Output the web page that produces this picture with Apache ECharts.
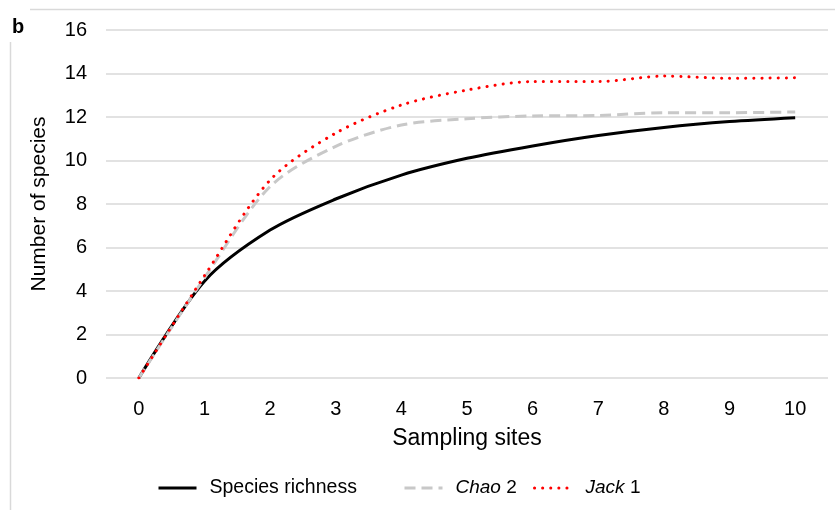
<!DOCTYPE html>
<html><head><meta charset="utf-8">
<script src="https://cdn.jsdelivr.net/npm/echarts@6/dist/echarts.min.js"></script>
<style>html,body{margin:0;padding:0;background:#fff}#c{width:835px;height:510px}</style>
</head><body><div id="c"></div>
<script>
const categories = ['0','1','2','3','4','5','6','7','8','9','10'];
const speciesRichness = [0, 4.45, 6.8, 8.23, 9.33, 10.1, 10.67, 11.15, 11.52, 11.79, 11.97];
const chao2 = [0, 4.6, 8.8, 10.65, 11.63, 11.92, 12.05, 12.07, 12.2, 12.2, 12.23];
const jack1 = [0, 4.7, 9.1, 11.26, 12.55, 13.24, 13.63, 13.63, 13.88, 13.78, 13.8];
const yTicks = {min: 0, max: 16, interval: 2};

const font = 'Liberation Sans';
const chart = echarts.init(document.getElementById('c'), null, {renderer: 'canvas'});
function legendCfg(name, left) {
  return {
    data: [name], left: left, top: 478, padding: 0, itemWidth: 38, itemHeight: 20, itemGap: 0,
    itemStyle: {opacity: 0},
    lineStyle: {width: 3},
    textStyle: {fontFamily: font, fontSize: 19.5, color: '#000', padding: [0, 0, 0, 8],
      rich: {i: {fontFamily: font, fontSize: 19, fontStyle: 'italic', color: '#000'}, n: {fontFamily: font, fontSize: 19, color: '#000'}}},
    formatter: function (n) {
      if (n === 'Chao 2') return '{i|Chao} {n|2}';
      if (n === 'Jack 1') return '{i|Jack} {n|1}';
      return n;
    }
  };
}
chart.setOption({
  animation: false,
  backgroundColor: '#fff',
  grid: {left: 106, right: 7, top: 30, bottom: 132, containLabel: false},
  legend: [legendCfg('Species richness', 157), legendCfg('Chao 2', 403), legendCfg('Jack 1', 533)],
  graphic: [
    {type: 'line', shape: {x1: 30, y1: 9.5, x2: 835, y2: 9.5}, style: {stroke: '#d9d9d9', lineWidth: 1.5}},
    {type: 'line', shape: {x1: 10.5, y1: 42, x2: 10.5, y2: 510}, style: {stroke: '#d9d9d9', lineWidth: 1.5}},
    {type: 'text', left: 12, top: 17, style: {text: 'b', fontFamily: font, fontWeight: 'bold', fontSize: 20, fill: '#000'}}
  ],
  xAxis: {
    type: 'category', data: categories, boundaryGap: true,
    name: 'Sampling sites', nameLocation: 'middle', nameGap: 49,
    nameTextStyle: {fontFamily: font, fontSize: 23, color: '#000'},
    axisLine: {show: false}, axisTick: {show: false},
    axisLabel: {fontFamily: font, fontSize: 20, color: '#000', margin: 21}
  },
  yAxis: {
    type: 'value', min: yTicks.min, max: yTicks.max, interval: yTicks.interval,
    name: 'Number of species', nameLocation: 'middle', nameGap: 56, nameRotate: 90,
    nameTextStyle: {fontFamily: font, fontSize: 21, color: '#000'},
    axisLine: {show: false}, axisTick: {show: false},
    axisLabel: {fontFamily: font, fontSize: 20, color: '#000', margin: 19},
    splitLine: {lineStyle: {color: '#d9d9d9', width: 1.5}}
  },
  series: [
    {name: 'Species richness', type: 'line', data: speciesRichness, smooth: 0.3, symbol: 'none',
      itemStyle: {color: '#000'}, lineStyle: {color: '#000', width: 3}},
    {name: 'Chao 2', type: 'line', data: chao2, smooth: 0.3, symbol: 'none',
      itemStyle: {color: '#c8c8c8'}, lineStyle: {color: '#c8c8c8', width: 3, type: [11, 6]}},
    {name: 'Jack 1', type: 'line', data: jack1, smooth: 0.3, symbol: 'none', z: 3,
      itemStyle: {color: '#ff0000'}, lineStyle: {color: '#ff0000', width: 3, type: [0.1, 8], cap: 'round'}}
  ]
});
</script></body></html>
